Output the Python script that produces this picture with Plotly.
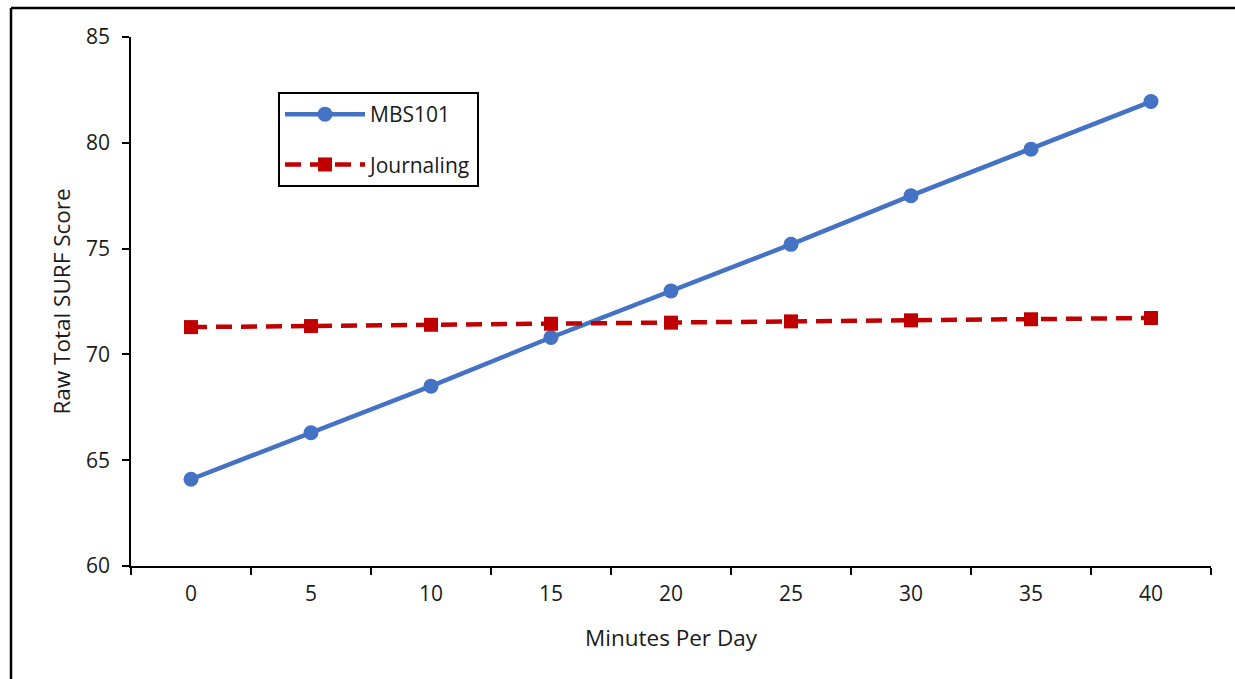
import plotly.graph_objects as go

minutes = ["0", "5", "10", "15", "20", "25", "30", "35", "40"]
mbs101 = [64.1, 66.3, 68.5, 70.8, 73.0, 75.2, 77.5, 79.7, 81.95]
journaling = [71.29, 71.34, 71.40, 71.45, 71.50, 71.56, 71.61, 71.66, 71.72]

FONT = "Open Sans"
W, H = 1235, 679
L, R, T, B = 131, 24, 37, 113
pw, ph = W - L - R, H - T - B

fig = go.Figure()
fig.add_trace(go.Scatter(
    x=minutes, y=mbs101, name="MBS101", mode="lines+markers",
    line=dict(color="#4472C4", width=4.5),
    marker=dict(symbol="circle", size=15, color="#4472C4"),
    legendgroup="a",
))
fig.add_trace(go.Scatter(
    x=minutes, y=journaling, name="Journaling", mode="lines+markers",
    line=dict(color="#C00000", width=4.5, dash="16px,9px"),
    marker=dict(symbol="square", size=14, color="#C00000"),
    legendgroup="b",
))

fig.update_layout(
    width=W, height=H,
    margin=dict(l=L, r=R, t=T, b=B),
    paper_bgcolor="white", plot_bgcolor="white",
    font=dict(family=FONT, size=21, color="#1a1a1a"),
    showlegend=True,
    legend=dict(
        x=(278 - L) / pw, y=1 - (92 - T) / ph, xanchor="left", yanchor="top",
        bordercolor="black", borderwidth=2, bgcolor="white",
        font=dict(family=FONT, size=21, color="#1a1a1a"),
        traceorder="grouped", tracegroupgap=20, itemwidth=80,
    ),
    xaxis=dict(
        type="category", range=[-0.5, 8.5], tickson="boundaries",
        ticks="outside", ticklen=7, tickwidth=1.5, tickcolor="black",
        showline=True, linecolor="black", linewidth=1.5,
        showgrid=False, zeroline=False,
        tickfont=dict(family=FONT, size=21), ticklabelstandoff=8,
        title=dict(text="Minutes Per Day", font=dict(family=FONT, size=22.5), standoff=24),
    ),
    yaxis=dict(
        range=[60, 85], dtick=5, tick0=60,
        ticks="outside", ticklen=7, tickwidth=1.5, tickcolor="black",
        showline=True, linecolor="black", linewidth=1.5,
        showgrid=False, zeroline=False,
        tickfont=dict(family=FONT, size=21), ticklabelstandoff=8,
        title=dict(text="Raw Total SURF Score", font=dict(family=FONT, size=22.5), standoff=9),
    ),
    shapes=[
        dict(type="line", xref="paper", yref="paper",
             x0=(11 - L) / pw, x1=(11 - L) / pw, y0=1 + (T - 8) / ph, y1=-0.5,
             line=dict(color="black", width=2.5)),
        dict(type="line", xref="paper", yref="paper",
             x0=(11 - L) / pw, x1=1.2, y0=1 + (T - 8) / ph, y1=1 + (T - 8) / ph,
             line=dict(color="black", width=2.5)),
    ],
)

fig.write_html("out.html")
